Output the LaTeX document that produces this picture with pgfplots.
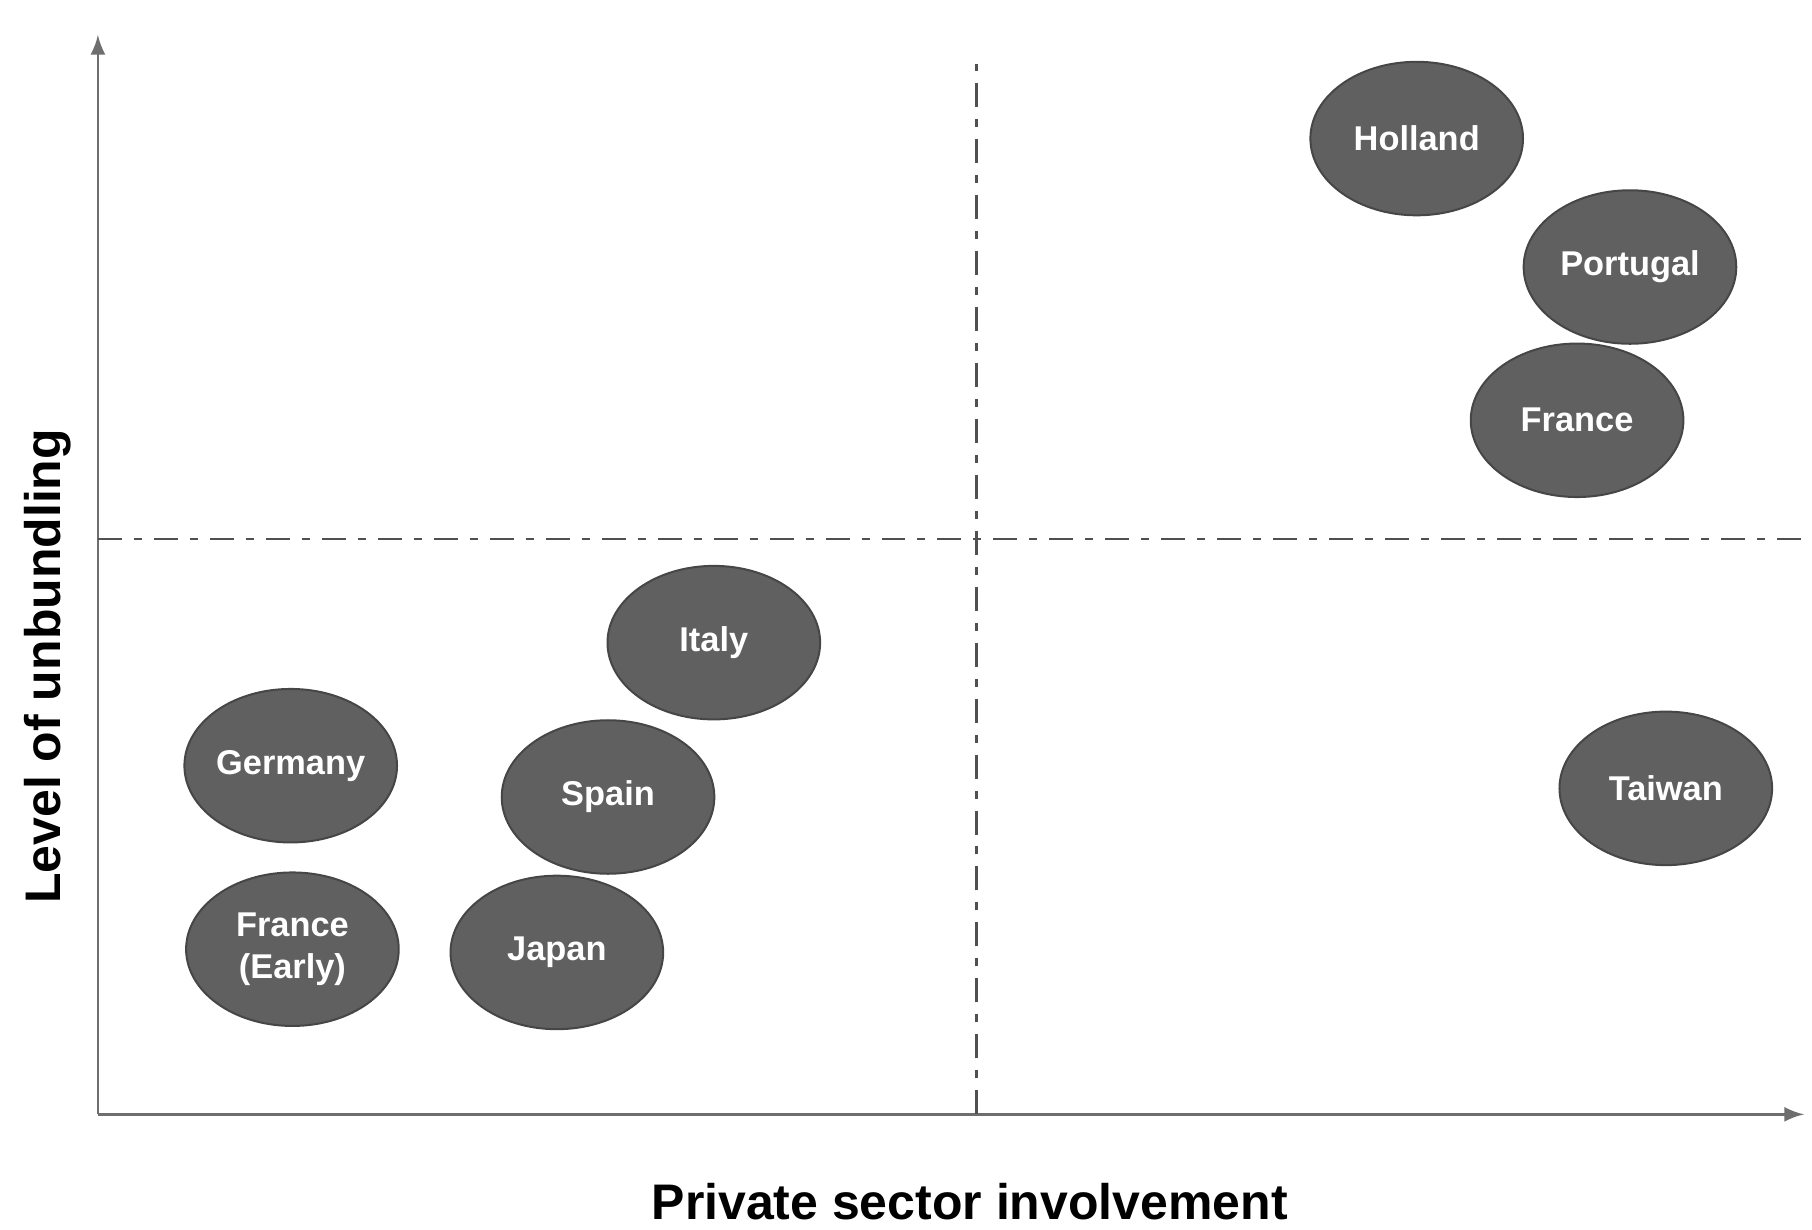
\documentclass[border=0pt]{standalone}
\usepackage{fontspec}
\setmainfont{Liberation Sans}
\usepackage{pgfplots}
\pgfplotsset{compat=1.18}
\definecolor{axisgray}{RGB}{110,110,110}
\definecolor{blobfill}{RGB}{96,96,96}
\definecolor{blobdraw}{RGB}{70,70,70}
\definecolor{dashgray}{RGB}{80,80,80}

\begin{document}
\begin{tikzpicture}
\begin{axis}[
    scale only axis,
    width=426.75pt, height=270pt,
    xmin=0, xmax=100, ymin=0, ymax=100,
    axis lines=left,
    axis line style={axisgray, line width=0.7pt, -latex},
    xtick=\empty, ytick=\empty,
    clip=false,
    xlabel={Private sector involvement},
    ylabel={Level of unbundling},
    label style={font=\fontsize{12.5}{14}\selectfont\bfseries, black, inner sep=0pt},
    xlabel style={at={(axis description cs:0.511,-0.0805)}, anchor=center},
    ylabel style={at={(axis description cs:-0.0293,0.415)}, anchor=center},
]
    % quadrant dividers
    \addplot[dashgray, line width=0.6pt, dash pattern=on 6pt off 3pt on 2pt off 3pt]
        coordinates {(51.5,0) (51.5,97.3)};
    \addplot[dashgray, line width=0.6pt, dash pattern=on 6pt off 3pt on 2pt off 3pt]
        coordinates {(0,53.3) (100.4,53.3)};

    % countries
    \addplot[
        only marks,
        mark=*,
        mark size=19.2pt,
        mark options={xscale=1.385, fill=blobfill, draw=blobdraw, line width=0.5pt},
        point meta=explicit symbolic,
        nodes near coords,
        nodes near coords align={center},
        every node near coord/.append style={anchor=center, white, align=center,
            font=\fontsize{8.6}{10.3}\selectfont\bfseries},
    ] coordinates {
        (77.3,90.4) [Holland]
        (89.8,78.5) [Portugal]
        (86.7,64.3) [France]
        (36.1,43.7) [Italy]
        (11.3,32.3) [Germany]
        (29.9,29.4) [Spain]
        (11.4,15.3) [{France\\(Early)}]
        (26.9,15.0) [Japan]
        (91.9,30.2) [Taiwan]
    };

    \path[use as bounding box] (rel axis cs:-0.0574,-0.1065) rectangle (rel axis cs:1.0041,1.0324);
\end{axis}
\end{tikzpicture}
\end{document}
